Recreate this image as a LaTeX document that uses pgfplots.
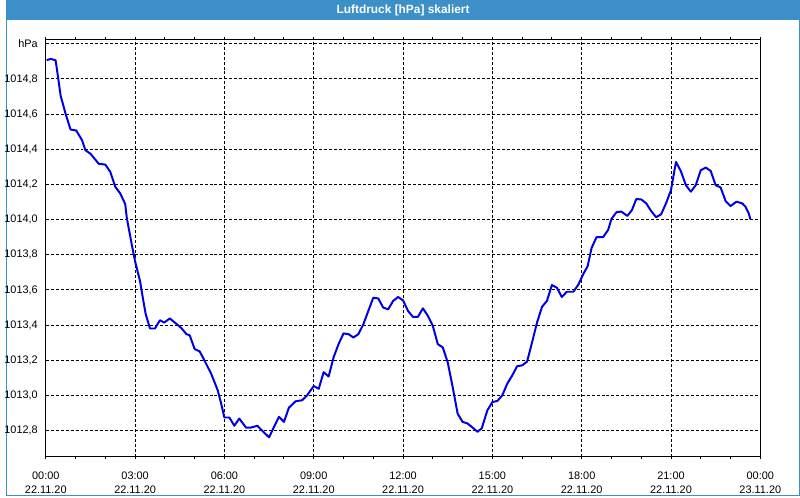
\documentclass[border=0pt]{standalone}
\usepackage{pgfplots}
\pgfplotsset{compat=1.18}
\usepackage{fontspec}
\setmainfont{Liberation Sans}
\definecolor{titleblue}{RGB}{60,143,199}
\definecolor{curveblue}{RGB}{0,0,230}
\pgfplotstableread{
h v
0.03 1014.907
0.17 1014.914
0.33 1014.906
0.39 1014.836
0.50 1014.704
0.667 1014.601
0.833 1014.512
1.023 1014.507
1.223 1014.450
1.333 1014.394
1.5 1014.375
1.777 1014.318
2.0 1014.313
2.167 1014.272
2.333 1014.187
2.5 1014.149
2.667 1014.089
2.723 1014.008
2.89 1013.857
3.0 1013.763
3.167 1013.650
3.277 1013.538
3.357 1013.462
3.5 1013.381
3.667 1013.381
3.833 1013.428
3.977 1013.415
4.167 1013.438
4.333 1013.415
4.557 1013.383
4.723 1013.349
4.833 1013.343
5.0 1013.264
5.167 1013.251
5.277 1013.217
5.557 1013.123
5.777 1013.029
5.89 1012.954
6.0 1012.875
6.167 1012.875
6.333 1012.828
6.5 1012.869
6.723 1012.818
6.89 1012.818
7.11 1012.828
7.223 1012.807
7.5 1012.762
7.667 1012.822
7.833 1012.879
8.0 1012.850
8.167 1012.931
8.39 1012.967
8.61 1012.973
8.777 1013.001
9.0 1013.054
9.167 1013.038
9.333 1013.133
9.5 1013.108
9.667 1013.217
9.833 1013.292
10.0 1013.353
10.167 1013.349
10.333 1013.330
10.5 1013.349
10.667 1013.405
10.833 1013.481
11.0 1013.556
11.167 1013.552
11.333 1013.500
11.5 1013.490
11.667 1013.538
11.833 1013.560
12.0 1013.541
12.167 1013.481
12.333 1013.447
12.5 1013.447
12.667 1013.496
12.833 1013.453
13.0 1013.396
13.167 1013.292
13.333 1013.274
13.5 1013.189
13.667 1013.048
13.833 1012.897
14.0 1012.850
14.167 1012.841
14.333 1012.818
14.5 1012.794
14.643 1012.813
14.833 1012.916
15.0 1012.963
15.167 1012.969
15.333 1013.001
15.5 1013.067
15.667 1013.114
15.833 1013.167
16.0 1013.171
16.167 1013.193
16.333 1013.302
16.5 1013.415
16.667 1013.504
16.833 1013.538
17.0 1013.628
17.167 1013.613
17.333 1013.560
17.5 1013.590
17.723 1013.590
17.89 1013.631
18.057 1013.692
18.2 1013.735
18.333 1013.839
18.5 1013.901
18.723 1013.901
18.89 1013.942
19.0 1014.004
19.167 1014.042
19.333 1014.046
19.533 1014.021
19.69 1014.055
19.833 1014.117
20.0 1014.115
20.167 1014.093
20.333 1014.049
20.5 1014.014
20.667 1014.030
20.833 1014.093
21.0 1014.168
21.167 1014.328
21.333 1014.275
21.5 1014.196
21.667 1014.159
21.833 1014.196
22.0 1014.281
22.167 1014.296
22.333 1014.277
22.5 1014.196
22.667 1014.183
22.833 1014.106
23.0 1014.077
23.2 1014.102
23.39 1014.093
23.5 1014.074
23.61 1014.036
23.667 1014.002
}\pressure
\begin{document}
\begin{tikzpicture}
% page: 800x500 px at 0.75pt/px
\fill[white] (0,0) rectangle (600pt,375pt);
\fill[titleblue] (0,360pt) rectangle (600pt,375pt);
\draw[titleblue, line width=0.75pt] (0.375pt,0.375pt) rectangle (599.625pt,374.625pt);
\node[text=white, font=\fontsize{9pt}{10pt}\selectfont\bfseries] at (300pt,367.5pt) {Luftdruck [hPa] skaliert};
\begin{axis}[
  at={(30pt,30pt)}, anchor=south west,
  scale only axis, width=540pt, height=315pt,
  xmin=0, xmax=24, ymin=1012.653, ymax=1015.023,
  axis line style={black, line width=0.75pt},
  font=\fontsize{8.25pt}{10pt}\selectfont,
  xtick={0,3,...,24},
  minor xtick={1,2,4,5,7,8,10,11,13,14,16,17,19,20,22,23},
  xticklabels={{00:00\\22.11.20},{03:00\\22.11.20},{06:00\\22.11.20},{09:00\\22.11.20},{12:00\\22.11.20},{15:00\\22.11.20},{18:00\\22.11.20},{21:00\\22.11.20},{00:00\\23.11.20}},
  xticklabel style={align=center, font=\fontsize{8.25pt}{10.5pt}\selectfont, yshift=-6pt},
  ytick={1012.8,1013.0,1013.2,1013.4,1013.6,1013.8,1014.0,1014.2,1014.4,1014.6,1014.8,1015.0},
  yticklabels={{1012,8},{1013,0},{1013,2},{1013,4},{1013,6},{1013,8},{1014,0},{1014,2},{1014,4},{1014,6},{1014,8},{hPa}},
  yticklabel style={xshift=-0.5pt},
  tick align=outside,
  x tick style={black, line width=0.75pt},
  major tick length=2pt, minor tick length=2pt,
  ytick style={draw=none},
  xmajorgrids, ymajorgrids,
  major grid style={black, line width=0.75pt, dash pattern=on 2.25pt off 1.5pt},
]
\addplot[curveblue, line width=1.5pt, line join=round] table[x=h, y=v] {\pressure};
\end{axis}
\end{tikzpicture}
\end{document}
